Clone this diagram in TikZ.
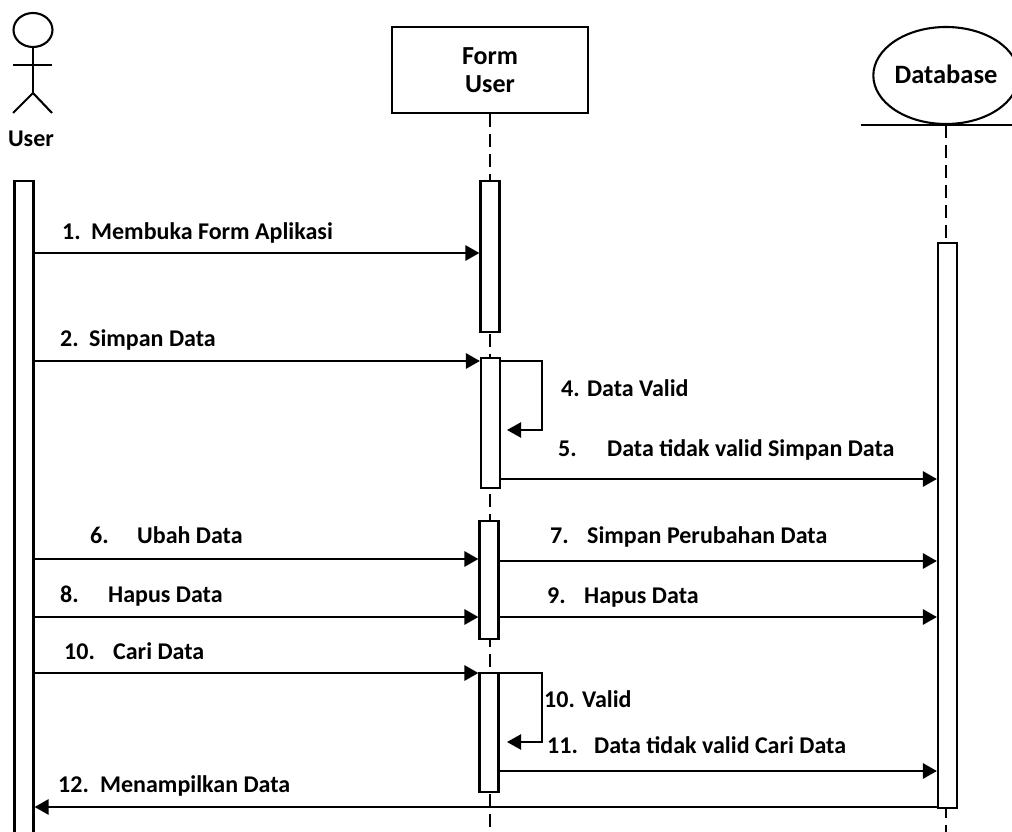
\documentclass[tikz,border=0pt]{standalone}
\usepackage{fontspec}
\setmainfont{Carlito}
\usetikzlibrary{arrows.meta,shapes.geometric}
\newcommand{\numbered}[3]{\makebox[#1][l]{#2}#3}
\tikzset{
  x=1pt,y=-1pt,
  every node/.style={font=\fontsize{24}{28}\selectfont\bfseries,text=black},
  line/.style={line width=2.7pt,draw=black},
  thin line/.style={line width=2.1pt,draw=black},
  bar/.style={thin line,fill=white,rectangle,inner sep=0pt,minimum width=19pt},
  msg/.style={line,-{Triangle[length=14pt,width=15pt]}},
  lifeline/.style={line,dash pattern=on 13pt off 7pt},
  lab/.style={anchor=base west,inner sep=0pt},
}
\newcommand{\barbox}[4]{\node[bar,minimum height=#4-#3] (#1) at (#2,{(#3+#4)/2}) {};}
\begin{document}
\begin{tikzpicture}
\useasboundingbox (0,0) rectangle (1012,832);
\clip (0,0) rectangle (1012,832);
% actor
\node[thin line,ellipse,minimum width=39pt,minimum height=34pt,inner sep=0pt] (head) at (33,30) {};
\coordinate (hip) at (33,93);
\coordinate (armL) at (13,65);
\coordinate (armR) at (52,65);
\coordinate (footL) at (13,113);
\coordinate (footR) at (52,113);
\draw[thin line] (head.south) -- (hip);
\draw[thin line] (armL) -- (armR);
\draw[thin line] (footL) -- (hip) -- (footR);
\node (userlabel) at (31,139) {User};
% form
\node[line,rectangle,minimum width=196pt,minimum height=86pt,align=center,inner sep=0pt] (form) at (490,70)
  {\fontsize{26}{31}\selectfont Form\\[0pt]\fontsize{26}{31}\selectfont User};
% database
\node[thin line,ellipse,minimum width=128pt,minimum height=97pt,inner sep=0pt] (db) at (946,75.5) {\raisebox{3pt}{\fontsize{26.5}{31}\selectfont Database}};
\coordinate (floorL) at (861,125);
\coordinate (floorR) at (1012,125);
\draw[line] (floorL) -- (floorR);
% lifelines
\coordinate (formend) at (490,832);
\coordinate (dbend) at (946,832);
\draw[lifeline] (form.south) -- (formend);
\draw[lifeline] (946,125) -- (dbend);
% activation bars
\barbox{ub}{24}{181}{850}
\barbox{f1}{490}{181}{332}
\barbox{f2}{490.5}{358}{488}
\barbox{f3}{489}{521}{639}
\barbox{f4}{489}{673}{792}
\barbox{d1}{947.5}{243}{808}
% messages
\draw[msg] (ub.east |- 0,253) -- (f1.west |- 0,253);
\draw[msg] (ub.east |- 0,361) -- (f2.west |- 0,361);
\coordinate (s1a) at (542,361);
\coordinate (s1b) at (542,430);
\coordinate (s1c) at (507,430);
\draw[msg,line width=2.2pt] (f2.east |- s1a) -- (s1a) -- (s1b) -- (s1c);
\draw[msg] (f2.east |- 0,479) -- (d1.west |- 0,479);
\draw[msg] (ub.east |- 0,559) -- (f3.west |- 0,559);
\draw[msg] (f3.east |- 0,561) -- (d1.west |- 0,561);
\draw[msg] (ub.east |- 0,617) -- (f3.west |- 0,617);
\draw[msg] (f3.east |- 0,617) -- (d1.west |- 0,617);
\draw[msg] (ub.east |- 0,673) -- (f4.west |- 0,673);
\coordinate (s2a) at (542,673);
\coordinate (s2b) at (542,742);
\coordinate (s2c) at (507,742);
\draw[msg,line width=2.2pt] (f4.east |- s2a) -- (s2a) -- (s2b) -- (s2c);
\draw[msg] (f4.east |- 0,771) -- (d1.west |- 0,771);
\draw[msg] (d1.west |- 0,807) -- (ub.east |- 0,807);
% labels
\node[lab] (m1) at (62,239) {\numbered{29pt}{1.}{Membuka Form Aplikasi}};
\node[lab] (m2) at (60,346) {\numbered{29pt}{2.}{Simpan Data}};
\node[lab] (m4) at (561,396) {4. Data Valid};
\node[lab] (m5) at (558,456) {\numbered{49pt}{5.}{Data tidak valid Simpan Data}};
\node[lab] (m6) at (90,543) {\numbered{47pt}{6.}{Ubah Data}};
\node[lab] (m7) at (550,543) {\numbered{37pt}{7.}{Simpan Perubahan Data}};
\node[lab] (m8) at (60,602) {\numbered{48pt}{8.}{Hapus Data}};
\node[lab] (m9) at (547,603) {\numbered{37pt}{9.}{Hapus Data}};
\node[lab] (m10) at (64,659) {\numbered{49pt}{10.}{Cari Data}};
\node[lab] (m10b) at (544,707) {10. Valid};
\node[lab] (m11) at (547,753) {\numbered{47pt}{11.}{Data tidak valid Cari Data}};
\node[lab] (m12) at (58,792) {\numbered{42pt}{12.}{Menampilkan Data}};
\end{tikzpicture}
\end{document}
